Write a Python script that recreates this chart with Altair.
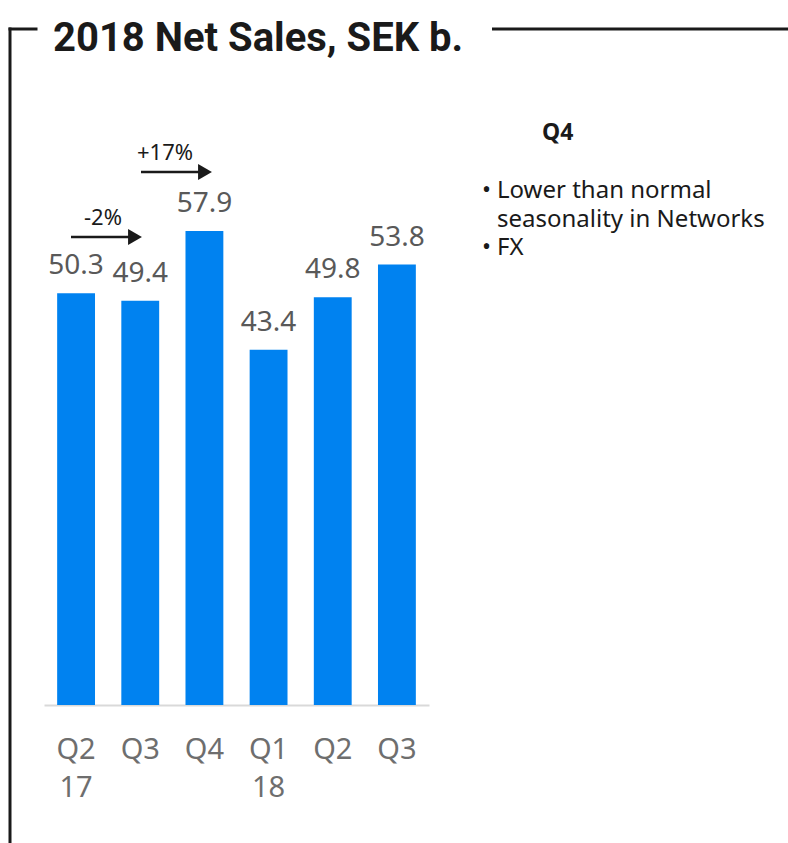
import altair as alt
import pandas as pd

# ---- data -------------------------------------------------------------
periods = ["Q2 2017", "Q3 2017", "Q4 2017", "Q1 2018", "Q2 2018", "Q3 2018"]
quarter_labels = ["Q2", "Q3", "Q4", "Q1", "Q2", "Q3"]
year_labels = ["17", "", "", "18", "", ""]
net_sales = [50.3, 49.4, 57.9, 43.4, 49.8, 53.8]
value_labels = ["50.3", "49.4", "57.9", "43.4", "49.8", "53.8"]

change_labels = ["-2%", "+17%"]
title_text = "2018 Net Sales, SEK b."
note_heading = "Q4"
note_lines = ["Lower than normal", "seasonality in Networks", "FX"]
note_bullets = ["•", "", "•"]

df = pd.DataFrame({
    "period": periods,
    "quarter": quarter_labels,
    "year": year_labels,
    "sales": net_sales,
    "label": value_labels,
})

# ---- layout helpers (page pixels -> plot coordinates) --------------------
PLOT_LEFT, PLOT_TOP, W, H = 44, 132, 385, 573


def px(X):
    return X - PLOT_LEFT


def py(Y):
    return Y - PLOT_TOP


one = alt.Data(values=[{"k": 1}])
INK = "#1a1a1a"

x_enc = alt.X(
    "period:N", sort=periods,
    scale=alt.Scale(paddingInner=0.41, paddingOuter=0.205),
    axis=alt.Axis(title=None, labels=False, ticks=False,
                  domainColor="#d9d9d9", domainWidth=2, grid=False),
)
y_enc = alt.Y("sales:Q", scale=alt.Scale(domain=[0, 70], nice=False), axis=None)

bars = alt.Chart(df).mark_bar(color="#0082F0").encode(x=x_enc, y=y_enc)

vals = alt.Chart(df).mark_text(
    font="Noto Sans", fontSize=28, color="#595959", baseline="alphabetic", dy=-19
).encode(x=x_enc, y=y_enc, text="label:N")

qlab = alt.Chart(df).mark_text(
    font="Noto Sans", fontSize=29, color="#6e6e6e", baseline="alphabetic"
).encode(x=x_enc, y=alt.value(py(759)), text="quarter:N")

ylab = alt.Chart(df).mark_text(
    font="Noto Sans", fontSize=29, color="#6e6e6e", baseline="alphabetic"
).encode(x=x_enc, y=alt.value(py(797)), text="year:N")

# ---- frame ---------------------------------------------------------------
FRAME_Y = 29
frame_v = alt.Chart(one).mark_rule(color=INK, strokeWidth=3, strokeCap="square").encode(
    x=alt.value(px(10)), y=alt.value(py(FRAME_Y)), y2=alt.value(py(845)))
frame_stub = alt.Chart(one).mark_rule(color=INK, strokeWidth=3, strokeCap="square").encode(
    x=alt.value(px(10)), x2=alt.value(px(36)), y=alt.value(py(FRAME_Y)))
frame_right = alt.Chart(one).mark_rule(color=INK, strokeWidth=3).encode(
    x=alt.value(px(492)), x2=alt.value(px(790)), y=alt.value(py(FRAME_Y)))

title = alt.Chart(alt.Data(values=[{"t": title_text}])).mark_text(
    font="Roboto", fontWeight="bold", fontSize=40, color=INK,
    align="left", baseline="alphabetic"
).encode(x=alt.value(px(53)), y=alt.value(py(51)), text="t:N")

# ---- change arrows ---------------------------------------------------------
def arrow(label, x0, x1, yline, xtext, ytext):
    shaft = alt.Chart(one).mark_rule(color=INK, strokeWidth=2.5).encode(
        x=alt.value(px(x0)), x2=alt.value(px(x1 - 8)), y=alt.value(py(yline)))
    head = alt.Chart(one).mark_point(
        shape="triangle-right", filled=True, color=INK, size=256, opacity=1
    ).encode(x=alt.value(px(x1 - 7)), y=alt.value(py(yline)))
    txt = alt.Chart(alt.Data(values=[{"t": label}])).mark_text(
        font="Noto Sans", fontSize=22, color=INK, baseline="alphabetic"
    ).encode(x=alt.value(px(xtext)), y=alt.value(py(ytext)), text="t:N")
    return [shaft, head, txt]


arrows = (arrow(change_labels[0], 71, 142, 237, 103, 225)
          + arrow(change_labels[1], 141, 212, 172, 165, 160))

# ---- side note -----------------------------------------------------------
heading = alt.Chart(alt.Data(values=[{"t": note_heading}])).mark_text(
    font="Noto Sans", fontWeight="bold", fontSize=23, color=INK,
    align="left", baseline="alphabetic"
).encode(x=alt.value(px(542)), y=alt.value(py(140)), text="t:N")

note_layers = []
for i, (b, line) in enumerate(zip(note_bullets, note_lines)):
    yb = 198 + 28.5 * i
    note_layers.append(alt.Chart(alt.Data(values=[{"t": line}])).mark_text(
        font="Noto Sans", fontSize=24, color=INK, align="left", baseline="alphabetic"
    ).encode(x=alt.value(px(497)), y=alt.value(py(yb)), text="t:N"))
    if b:
        note_layers.append(alt.Chart(alt.Data(values=[{"t": b}])).mark_text(
            font="Noto Sans", fontSize=24, color=INK, align="left", baseline="alphabetic"
        ).encode(x=alt.value(px(482)), y=alt.value(py(yb)), text="t:N"))

chart = alt.layer(
    bars, vals, qlab, ylab, frame_v, frame_stub, frame_right, title,
    *arrows, heading, *note_layers
).properties(
    width=W, height=H,
    autosize=alt.AutoSizeParams(type="none"),
    padding={"left": PLOT_LEFT, "top": PLOT_TOP, "right": 788 - PLOT_LEFT - W,
             "bottom": 843 - PLOT_TOP - H},
    background="white",
).configure_view(stroke=None)

chart.save("out.html", embed_options={"renderer": "svg", "actions": False})
